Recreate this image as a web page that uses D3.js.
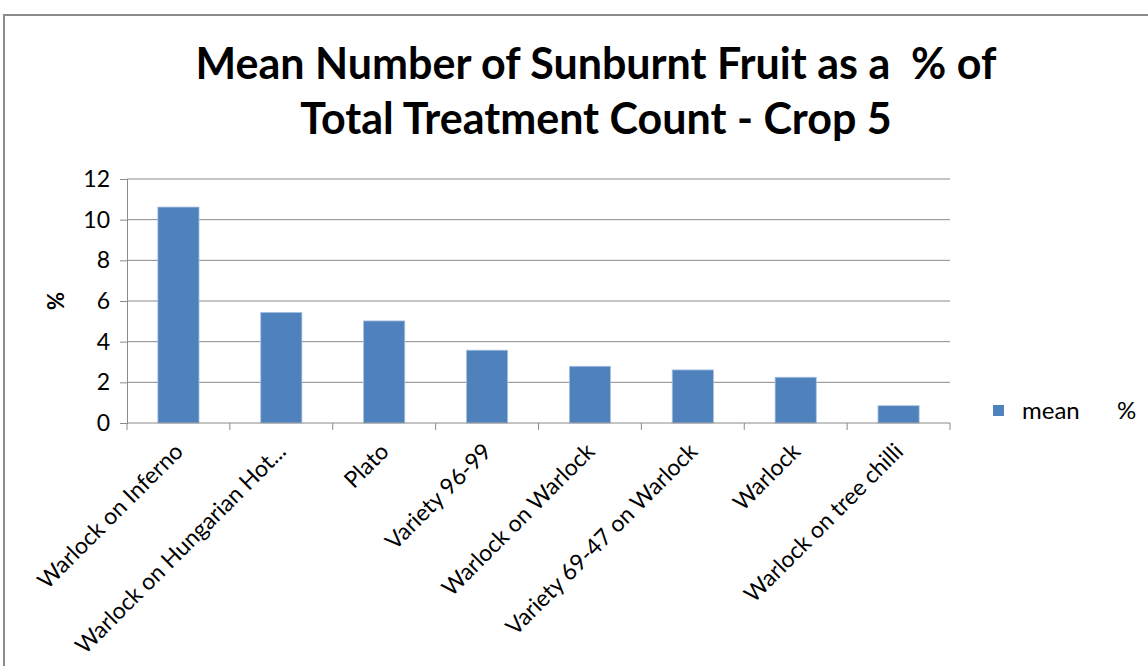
<!DOCTYPE html>
<html>
<head>
<meta charset="utf-8">
<script src="https://cdn.jsdelivr.net/npm/d3@7"></script>
<style>
  body { margin: 0; background: #fff; }
  svg text { font-family: Lato, "Open Sans", sans-serif; fill: #000; }
</style>
</head>
<body>
<script>
// values
var categories = ['Warlock on Inferno', 'Warlock on Hungarian Hot...', 'Plato', 'Variety 96-99',
    'Warlock on Warlock', 'Variety 69-47 on Warlock', 'Warlock', 'Warlock on tree chilli'];
var meanPct = [10.62, 5.44, 5.02, 3.58, 2.79, 2.61, 2.25, 0.85];
var yTicks = [0, 2, 4, 6, 8, 10, 12];
var titleLines = ['Mean Number of Sunburnt Fruit as a  % of', 'Total Treatment Count - Crop 5'];

var svg = d3.select('body').append('svg')
    .attr('width', 1148)
    .attr('height', 666);

// outer chart frame (runs off the picture right and bottom)
svg.append('rect')
    .attr('x', 4).attr('y', 15)
    .attr('width', 1200).attr('height', 700)
    .attr('fill', '#fff')
    .attr('stroke', '#8c8c8c')
    .attr('stroke-width', 2);

var plotL = 127, plotR = 950, plotT = 179, plotB = 423;

var x = d3.scaleBand()
    .domain(categories)
    .range([plotL, plotR])
    .paddingInner(0.6)
    .paddingOuter(0.3);

var y = d3.scaleLinear()
    .domain([0, 12])
    .range([plotB, plotT]);

// gridlines
svg.append('g').selectAll('line')
    .data(yTicks.filter(function(d) { return d > 0; }))
    .enter().append('line')
    .attr('x1', plotL).attr('x2', plotR)
    .attr('y1', function(d) { return y(d); })
    .attr('y2', function(d) { return y(d); })
    .attr('stroke', '#8a8a8a')
    .attr('stroke-width', 1);

// y axis
var yAxis = svg.append('g')
    .attr('transform', 'translate(' + plotL + ',0)')
    .call(d3.axisLeft(y).tickValues(yTicks).tickSize(7).tickPadding(10));
yAxis.select('.domain').attr('stroke', '#8a8a8a');
yAxis.selectAll('line').attr('stroke', '#8a8a8a');
yAxis.selectAll('text').attr('font-size', 23).style('font-family', 'Lato, sans-serif');

// bars
svg.append('g').selectAll('rect')
    .data(meanPct)
    .enter().append('rect')
    .attr('x', function(d, i) { return x(categories[i]); })
    .attr('y', function(d) { return y(d); })
    .attr('width', x.bandwidth())
    .attr('height', function(d) { return y(0) - y(d); })
    .attr('fill', '#4f81bd')
    .attr('stroke', '#a9c1e0')
    .attr('stroke-width', 0.8);

// x axis with ticks between bands
var xAxis = svg.append('g')
    .attr('transform', 'translate(0,' + plotB + ')');
xAxis.append('line')
    .attr('x1', plotL).attr('x2', plotR)
    .attr('stroke', '#8a8a8a');
var bounds = d3.range(categories.length + 1).map(function(i) { return plotL + i * x.step(); });
xAxis.selectAll('.tk')
    .data(bounds)
    .enter().append('line')
    .attr('x1', function(d) { return d; })
    .attr('x2', function(d) { return d; })
    .attr('y1', 0).attr('y2', 7)
    .attr('stroke', '#8a8a8a');

xAxis.selectAll('.lbl')
    .data(categories)
    .enter().append('text')
    .attr('transform', function(d) {
        return 'translate(' + (x(d) + x.bandwidth() / 2 + 6) + ',30) rotate(-45)';
    })
    .attr('text-anchor', 'end')
    .attr('font-size', 23)
    .text(function(d) { return d; });

// y axis title
svg.append('text')
    .attr('transform', 'translate(64,301) rotate(-90)')
    .attr('text-anchor', 'middle')
    .attr('font-size', 22)
    .attr('font-weight', 'bold')
    .text('%');

// chart title
svg.append('g').selectAll('text')
    .data(titleLines)
    .enter().append('text')
    .attr('x', 596)
    .attr('y', function(d, i) { return 79 + i * 55; })
    .attr('text-anchor', 'middle')
    .attr('font-size', 43)
    .attr('font-weight', 'bold')
    .style('white-space', 'pre')
    .text(function(d) { return d; });

// legend
svg.append('rect')
    .attr('x', 993).attr('y', 405)
    .attr('width', 11).attr('height', 11)
    .attr('fill', '#4f81bd');
var leg = svg.append('text')
    .attr('y', 419)
    .attr('font-size', 24);
leg.append('tspan').attr('x', 1022).text('mean');
leg.append('tspan').attr('x', 1117).text('%');
</script>
</body>
</html>
